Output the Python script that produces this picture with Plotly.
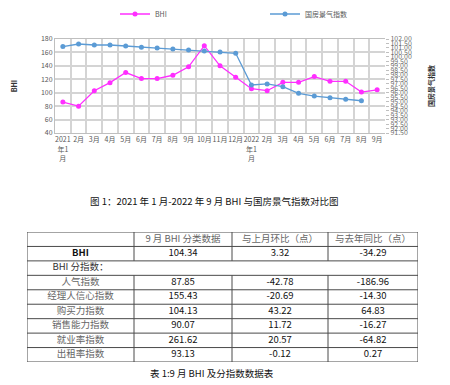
import plotly.graph_objects as go

# ---------------- chart data ----------------
periods = ["2021-01", "2021-02", "2021-03", "2021-04", "2021-05", "2021-06", "2021-07",
           "2021-08", "2021-09", "2021-10", "2021-11", "2021-12", "2022-01", "2022-02",
           "2022-03", "2022-04", "2022-05", "2022-06", "2022-07", "2022-08", "2022-09"]
month_labels = ["2021<br>年1<br>月", "2月", "3月", "4月", "5月", "6月", "7月", "8月", "9月",
                "10月", "11月", "12月", "2022<br>年1<br>月", "2月", "3月", "4月", "5月",
                "6月", "7月", "8月", "9月"]
bhi = [86, 80, 103, 115, 130, 121, 121, 126, 138.6, 170, 140, 123,
       106, 103, 115.5, 115.5, 124, 117, 117, 101.02, 104.34]
climate_periods = periods[:20]
climate = [101.15, 101.44, 101.33, 101.33, 101.22, 101.07, 100.99, 100.88, 100.77, 100.66,
           100.55, 100.40, 96.86, 96.98, 96.68, 95.93, 95.63, 95.44, 95.26, 95.10]

# ---------------- table data ----------------
table_header = ["", "9 月 BHI 分类数据", "与上月环比（点）", "与去年同比（点）"]
bhi_row = ["<b>BHI</b>", "104.34", "3.32", "-34.29"]
sub_title = "BHI 分指数："
sub_names = ["人气指数", "经理人信心指数", "购买力指数", "销售能力指数", "就业率指数", "出租率指数"]
sub_values = ["87.85", "155.43", "104.13", "90.07", "261.62", "93.13"]
sub_mom = ["-42.78", "-20.69", "43.22", "11.72", "20.57", "-0.12"]
sub_yoy = ["-186.96", "-14.30", "64.83", "-16.27", "-64.82", "0.27"]

chart_caption = "图 1：2021 年 1 月-2022 年 9 月 BHI 与国房景气指数对比图"
table_caption = "表 1:9 月 BHI 及分指数数据表"

W, H = 450, 385
FONT = "Noto Sans CJK SC"
MAG = "#FF2EFF"
BLUE = "#5B9BD5"
TXT = "#595959"
GRID = "#d4d4d4"

def px_x(v):
    return v / W

def px_y(v):
    return 1 - v / H

fig = go.Figure()

fig.add_trace(go.Scatter(
    x=periods, y=bhi, name="BHI", mode="lines+markers",
    line=dict(color=MAG, width=1.3), marker=dict(color=MAG, size=5, symbol="circle"),
    xaxis="x", yaxis="y"))
fig.add_trace(go.Scatter(
    x=climate_periods, y=climate, name="国房景气指数", mode="lines+markers",
    line=dict(color=BLUE, width=1.3), marker=dict(color=BLUE, size=5, symbol="circle"),
    xaxis="x", yaxis="y2"))

# ---------------- table (drawn on its own hidden axes) ----------------
colw = [107, 98, 96, 90]
col_edges = [0]
for w in colw:
    col_edges.append(col_edges[-1] + w)
total_w = col_edges[-1]
col_centers = [(col_edges[i] + col_edges[i + 1]) / 2 for i in range(len(colw))]

rows = [table_header, bhi_row, [sub_title, "", "", ""]]
rows += [list(r) for r in zip(sub_names, sub_values, sub_mom, sub_yoy)]
n_rows = len(rows)
merged_row = 2

# borders
bx, by = [], []
for r in range(n_rows + 1):
    bx += [0, total_w, None]
    by += [r, r, None]
for i, e in enumerate(col_edges):
    if i == 0 or i == len(col_edges) - 1:
        bx += [e, e, None]
        by += [0, n_rows, None]
    else:
        bx += [e, e, None, e, e, None]
        by += [0, merged_row, None, merged_row + 1, n_rows, None]
fig.add_trace(go.Scatter(x=bx, y=by, mode="lines", line=dict(color="#4a4a4a", width=1),
                         xaxis="x3", yaxis="y3", showlegend=False, hoverinfo="skip"))

gray = "#666666"
dark = "#111111"
for c in range(len(colw)):
    texts = [row[c] for row in rows]
    colors = []
    for r in range(n_rows):
        if r == 0:
            colors.append(gray)
        elif c == 0 and r >= 3:
            colors.append(gray)
        elif c == 0 and r == merged_row:
            colors.append("#333333")
        else:
            colors.append(dark)
    fig.add_trace(go.Scatter(
        x=[col_centers[c]] * n_rows, y=[r + 0.5 for r in range(n_rows)],
        text=texts, mode="text", textposition="middle center",
        textfont=dict(family=FONT, size=9.5, color=colors),
        xaxis="x3", yaxis="y3", showlegend=False, hoverinfo="skip", cliponaxis=False))

fig.update_layout(
    width=W, height=H,
    margin=dict(l=0, r=0, t=0, b=0, autoexpand=False),
    paper_bgcolor="white", plot_bgcolor="white",
    font=dict(family=FONT, size=7, color=TXT),
    showlegend=True,
    legend=dict(orientation="h", x=px_x(115), y=px_y(14), xanchor="left", yanchor="middle",
                xref="container", yref="container",
                font=dict(family=FONT, size=7, color=TXT), entrywidth=105,
                entrywidthmode="pixels", bgcolor="rgba(0,0,0,0)"),
    xaxis=dict(domain=[px_x(55), px_x(385)], type="category", automargin=False,
               tickmode="array", tickvals=periods, ticktext=month_labels,
               tickson="boundaries", ticks="", showgrid=True, gridcolor=GRID, gridwidth=1.5,
               showline=True, linecolor="#bfbfbf", linewidth=1, mirror=True,
               tickfont=dict(family=FONT, size=7, color=TXT), tickangle=0,
               range=[-0.5, 20.5], anchor="y"),
    yaxis=dict(domain=[px_y(133), px_y(39)], range=[40, 180], dtick=20, automargin=False,
               showgrid=True, gridcolor=GRID, gridwidth=1.5, zeroline=False,
               showline=True, linecolor="#bfbfbf", ticks="", anchor="x",
               tickfont=dict(family=FONT, size=7, color=TXT),
               title=dict(text="<b>BHI</b>", font=dict(family=FONT, size=7, color="#333333"),
                          standoff=22)),
    yaxis2=dict(overlaying="y", side="right", range=[91.5, 102], dtick=0.5, automargin=False,
                tickformat=".2f", showgrid=False, zeroline=False, ticks="outside",
                ticklen=3, tickcolor="#bfbfbf", showline=False, anchor="x",
                tickfont=dict(family=FONT, size=7, color="#707070"),
                title=dict(text="<b>国房景气指数</b>",
                           font=dict(family=FONT, size=7, color="#333333"), standoff=18)),
    xaxis3=dict(domain=[px_x(27), px_x(418)], range=[0, total_w], visible=False,
                anchor="y3", fixedrange=True),
    yaxis3=dict(domain=[px_y(362), px_y(232)], range=[n_rows, 0], visible=False,
                anchor="x3", fixedrange=True),
    annotations=[
        dict(text=chart_caption, x=px_x(214), y=px_y(201), xref="paper", yref="paper",
             xanchor="center", yanchor="middle", showarrow=False,
             font=dict(family=FONT, size=9.5, color="#111111")),
        dict(text=table_caption, x=px_x(212), y=px_y(373), xref="paper", yref="paper",
             xanchor="center", yanchor="middle", showarrow=False,
             font=dict(family=FONT, size=9.5, color="#111111")),
    ],
)

fig.write_html("out.html", config={"displayModeBar": False},
               post_script="document.body.style.margin='0px';")
